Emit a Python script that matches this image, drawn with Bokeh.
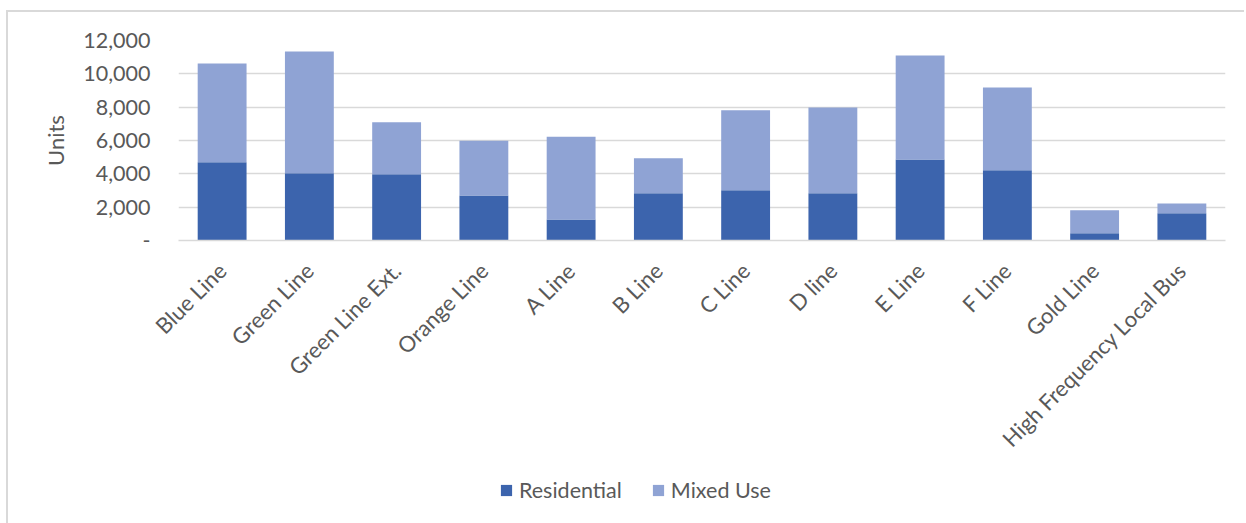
from bokeh.plotting import figure
from bokeh.layouts import column
from bokeh.models import (ColumnDataSource, FactorRange, FixedTicker, NumeralTickFormatter,
                          Legend, LegendItem)
from bokeh.embed import file_html
from bokeh.resources import INLINE
import math

categories = ["Blue Line", "Green Line", "Green Line Ext.", "Orange Line", "A Line", "B Line",
              "C Line", "D line", "E Line", "F Line", "Gold Line", "High Frequency Local Bus"]
residential = [4700, 4040, 3980, 2700, 1260, 2840, 3020, 2840, 4860, 4220, 440, 1640]
mixed_use = [5920, 7300, 3120, 3280, 4960, 2100, 4800, 5140, 6240, 4960, 1380, 580]
series_names = ["Residential", "Mixed Use"]
y_ticks = [0, 2000, 4000, 6000, 8000, 10000, 12000]

FONT = "Lato"
TXT = "#595959"
GRID = "#d9d9d9"
C_RES = "#3c64ad"
C_MIX = "#8fa3d4"

source = ColumnDataSource(dict(cat=categories, res=residential, mix=mixed_use))

p = figure(x_range=FactorRange(*categories), y_range=(0, 12000),
           width=1236, height=458, output_backend="svg", toolbar_location=None,
           min_border_left=170, min_border_right=19, min_border_top=28, min_border_bottom=230)
p.outline_line_color = None
p.background_fill_color = "white"
p.border_fill_color = "white"

rs = p.vbar_stack(["res", "mix"], x="cat", width=0.56, source=source,
                  color=[C_RES, C_MIX], line_color=None)

p.xgrid.grid_line_color = None
p.ygrid.grid_line_color = GRID
p.ygrid.grid_line_width = 1.5
p.yaxis.ticker = FixedTicker(ticks=y_ticks)
p.yaxis.formatter = NumeralTickFormatter(format="0,0")
p.yaxis.major_label_overrides = {0: "-"}
p.yaxis.axis_line_color = None
p.yaxis.major_tick_line_color = None
p.yaxis.minor_tick_line_color = None
p.yaxis.major_tick_out = 0
p.yaxis.major_label_standoff = 28
p.yaxis.major_label_text_font = FONT
p.yaxis.major_label_text_font_size = "21.5px"
p.yaxis.major_label_text_color = TXT
p.yaxis.axis_label = "Units"
p.yaxis.axis_label_text_font = FONT
p.yaxis.axis_label_text_font_size = "22px"
p.yaxis.axis_label_text_font_style = "normal"
p.yaxis.axis_label_text_color = TXT
p.yaxis.axis_label_standoff = 11

p.xaxis.axis_line_color = GRID
p.xaxis.axis_line_width = 1.5
p.xaxis.major_tick_line_color = None
p.xaxis.minor_tick_line_color = None
p.xaxis.major_tick_out = 0
p.xaxis.major_label_orientation = math.pi / 4
p.xaxis.major_label_standoff = 26
p.xaxis.major_label_text_font = FONT
p.xaxis.major_label_text_font_size = "22px"
p.xaxis.major_label_text_color = TXT

# legend strip under the chart (its frame is aligned with the chart's frame by the column)
pl = figure(width=1236, height=53, output_backend="svg", toolbar_location=None,
            x_range=(0, 1), y_range=(0, 1), x_axis_location=None, y_axis_location=None,
            min_border=0)
pl.outline_line_color = None
pl.grid.grid_line_color = None
# zero-area proxies that only carry the legend swatch styles
l_res = pl.vbar(x=[0.5], top=[0], bottom=[0], width=0, color=C_RES, line_color=None)
l_mix = pl.vbar(x=[0.5], top=[0], bottom=[0], width=0, color=C_MIX, line_color=None)
legend = Legend(items=[LegendItem(label=series_names[0], renderers=[l_res]),
                       LegendItem(label=series_names[1], renderers=[l_mix])],
                orientation="horizontal", location=(321, 20),
                padding=0, margin=0, spacing=29, label_standoff=6,
                glyph_width=14, glyph_height=14,
                label_text_font=FONT, label_text_font_size="21.5px", label_text_color=TXT,
                border_line_color=None, background_fill_alpha=0)
pl.add_layout(legend, "center")

layout = column(p, pl, spacing=0)
layout.styles = {"margin-left": "6px", "margin-top": "10px",
                 "border-left": "2px solid #d9d9d9", "border-top": "2px solid #d9d9d9"}

open("out.html", "w").write(file_html(layout, INLINE))
